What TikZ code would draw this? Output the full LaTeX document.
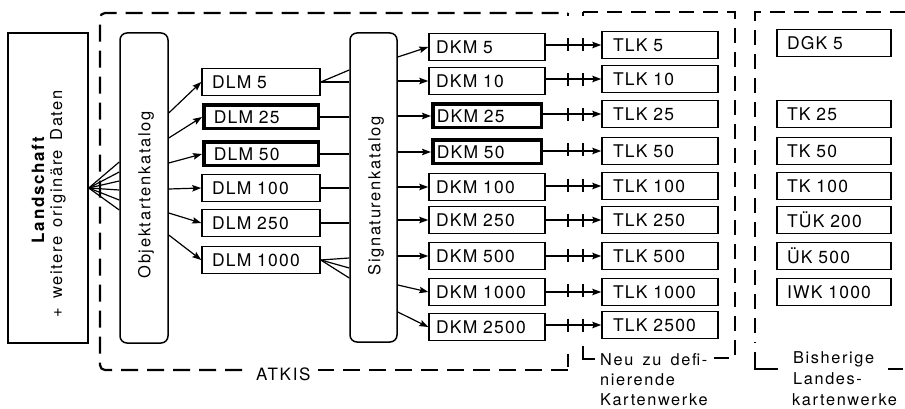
\documentclass[tikz,border=0pt]{standalone}
\usepackage{fontspec}
\setmainfont{TeX Gyre Heros}
\newfontfamily\kastenfont{TeX Gyre Heros}[LetterSpace=7,WordSpace=3]
\newfontfamily\lblfont{TeX Gyre Heros}[LetterSpace=10,WordSpace=1.5]
\usetikzlibrary{arrows.meta}
\begin{document}
\begin{tikzpicture}[x=1pt,y=-1pt,
  box/.style={draw, line width=1.5pt, minimum height=27pt, text width=#1, inner xsep=8pt, inner ysep=0pt, align=left,
    font=\fontsize{17.5}{20}\kastenfont,
    execute at begin node={\hbox\bgroup}, execute at end node={\egroup}},
  box/.default=100pt,
  heavy/.style={line width=3.5pt, minimum height=23.5pt},
  cat/.style={draw, line width=1.5pt, rounded corners=7pt, inner sep=0pt},
  vert/.style={rotate=90, font=\fontsize{16.5}{20}\lblfont},
  conn/.style={line width=1.2pt},
  arr/.style={conn, -{Stealth[length=9pt,width=6.5pt,inset=1.5pt]}},
  bigdash/.style={line width=2.2pt, dash pattern=on 17pt off 9pt},
  aligndash/.style={line width=#1, dash pattern=on 13pt off 22pt},
  thindash/.style={line width=1.2pt, dash pattern=on 15pt off 9pt},
  lbl/.style={inner sep=0pt, anchor=base west, font=\fontsize{16.3}{20}\lblfont},
]
\useasboundingbox (0,0) rectangle (905,409);

% Landschaft
\node[draw, line width=1.5pt, minimum width=80pt, minimum height=310pt, inner sep=0pt] (land) at (48,188) {};
\node[rotate=90, font=\fontsize{17}{20}\lblfont\bfseries] (landt) at (38,190) {Landschaft};
\node[vert] (landt2) at (58,204) {+ weitere originäre Daten};

% catalogs
\node[cat, minimum width=48pt, minimum height=310pt] (ok) at (144,188) {};
\node[vert] (okt) at (146,195) {Objektartenkatalog};
\node[cat, minimum width=47pt, minimum height=309pt] (sig) at (373.5,187.5) {};
\node[vert] (sigt) at (376,196) {Signaturenkatalog};

% DLM
\node[box=98pt, inner xsep=10pt] (dlm5) at (261,82) {DLM 5};
\node[box=94.5pt, inner xsep=10pt, heavy] (dlm25) at (261,117) {DLM 25};
\node[box=94.5pt, inner xsep=10pt, heavy] (dlm50) at (261,154) {DLM 50};
\node[box=98pt, inner xsep=10pt] (dlm100) at (261,188) {DLM 100};
\node[box=98pt, inner xsep=10pt] (dlm250) at (261,223) {DLM 250};
\node[box=98pt, inner xsep=10pt] (dlm1000) at (261,260) {DLM 1000};

% DKM
\node[box=102pt, inner xsep=7pt] (dkm5) at (487,47) {DKM 5};
\node[box=102pt, inner xsep=7pt] (dkm10) at (487,81) {DKM 10};
\node[box=100.5pt, heavy, inner xsep=4pt] (dkm25) at (487,116) {DKM 25};
\node[box=100.5pt, heavy, inner xsep=4pt] (dkm50) at (487,152) {DKM 50};
\node[box=102pt, inner xsep=7pt] (dkm100) at (487,187) {DKM 100};
\node[box=102pt, inner xsep=7pt] (dkm250) at (487,220) {DKM 250};
\node[box=102pt, inner xsep=7pt] (dkm500) at (487,256) {DKM 500};
\node[box=102pt, inner xsep=7pt] (dkm1000) at (487,292) {DKM 1000};
\node[box=102pt, inner xsep=7pt] (dkm2500) at (487,327) {DKM 2500};

% TLK
\node[box=94pt, inner xsep=11pt] (tlk5) at (660,45) {TLK 5};
\node[box=94pt, inner xsep=11pt] (tlk10) at (660,79) {TLK 10};
\node[box=94pt, inner xsep=11pt] (tlk25) at (660,114) {TLK 25};
\node[box=94pt, inner xsep=11pt] (tlk50) at (660,151) {TLK 50};
\node[box=94pt, inner xsep=11pt] (tlk100) at (660,186) {TLK 100};
\node[box=94pt, inner xsep=11pt] (tlk250) at (660,220) {TLK 250};
\node[box=94pt, inner xsep=11pt] (tlk500) at (660,256) {TLK 500};
\node[box=94pt, inner xsep=11pt] (tlk1000) at (660,292) {TLK 1000};
\node[box=94pt, inner xsep=11pt] (tlk2500) at (660,325) {TLK 2500};

% bisherige
\node[box=94pt, inner xsep=10pt] (dgk5) at (834,43) {DGK 5};
\node[box=94pt, inner xsep=10pt] (tk25) at (834,114) {TK 25};
\node[box=94pt, inner xsep=10pt] (tk50) at (834,151) {TK 50};
\node[box=94pt, inner xsep=10pt] (tk100) at (834,186) {TK 100};
\node[box=94pt, inner xsep=10pt] (tuk200) at (834,220) {TÜK 200};
\node[box=94pt, inner xsep=10pt] (uk500) at (834,256) {ÜK 500};
\node[box=94pt, inner xsep=10pt] (iwk1000) at (834,292) {IWK 1000};

% fan Landschaft -> Objektartenkatalog
\foreach \yy in {162,172,181,190,200,210}
  \draw[conn] (land.east) -- (ok.west |- 0,\yy);

% Objektartenkatalog -> DLM
\draw[arr] (ok.east |- 0,113) -- (dlm5.west);
\draw[arr] (ok.east |- 0,138) -- (dlm25.west);
\draw[arr] (ok.east |- 0,163) -- (dlm50.west);
\draw[arr] (ok.east |- 0,189) -- (dlm100.west);
\draw[arr] (ok.east |- 0,213) -- (dlm250.west);
\draw[arr] (ok.east |- 0,235) -- (dlm1000.west);

% DLM -> Signaturenkatalog
\draw[conn] (dlm5.east) -- (sig.west |- 0,70);
\draw[conn] (dlm5.east) -- (sig.west |- 0,82);
\draw[conn] (dlm25.east) -- (dlm25.east -| sig.west);
\draw[conn] (dlm50.east) -- (dlm50.east -| sig.west);
\draw[conn] (dlm100.east) -- (dlm100.east -| sig.west);
\draw[conn] (dlm250.east) -- (dlm250.east -| sig.west);
\draw[conn] (dlm1000.east) -- (sig.west |- 0,258);
\draw[conn] (dlm1000.east) -- (sig.west |- 0,268);
\draw[conn] (dlm1000.east) -- (sig.west |- 0,278);

% Signaturenkatalog -> DKM
\draw[arr] (sig.east |- 0,57) -- (dkm5.west);
\foreach \n in {dkm10,dkm25,dkm50,dkm100,dkm250,dkm500}
  \draw[arr] (\n.west -| sig.east) -- (\n.west);
\draw[arr] (sig.east |- 0,285) -- (dkm1000.west);
\draw[arr] (sig.east |- 0,312) -- (dkm2500.west);

% DKM -> TLK
\foreach \a/\b in {dkm5/tlk5,dkm10/tlk10,dkm25/tlk25,dkm50/tlk50,dkm100/tlk100,dkm250/tlk250,dkm500/tlk500,dkm1000/tlk1000,dkm2500/tlk2500}
  \draw[arr] (\b.west -| \a.east) -- (\b.west);

% ATKIS frame
\node[inner sep=0pt, anchor=west, font=\fontsize{17}{20}\lblfont] (atkis) at (256,374) {ATKIS};
\draw[bigdash, rounded corners=5pt] (242,370) -- (100,370) -- (100,13) -- (568,13);
\draw[aligndash=2.2pt, dash phase=9.5pt] (568,13) -- (568,370);
\draw[bigdash] (568,370) -- (318,370);

% Neu zu definierende frame
\draw[aligndash=1.3pt, dash phase=8.5pt] (583,12) -- (583,343);
\draw[conn] (583,346) -- (583,359) -- (595,359);
\draw[thindash] (583,12) -- (735,12) -- (735,358) -- (712,358);
\node[lbl] (neu1) at (600,365) {Neu zu defi-};
\node[lbl] (neu2) at (600,385) {nierende};
\node[lbl] (neu3) at (600,405) {Kartenwerke};

% Bisherige frame
\draw[thindash] (905,12) -- (755,12) -- (755,343);
\draw[conn] (755,352) -- (755,369) -- (778,369);
\draw[thindash] (888,369) -- (905,369);
\node[lbl] (bis1) at (793,363) {Bisherige};
\node[lbl] (bis2) at (793,384) {Landes-};
\node[lbl] (bis3) at (792,405) {kartenwerke};
\end{tikzpicture}
\end{document}
